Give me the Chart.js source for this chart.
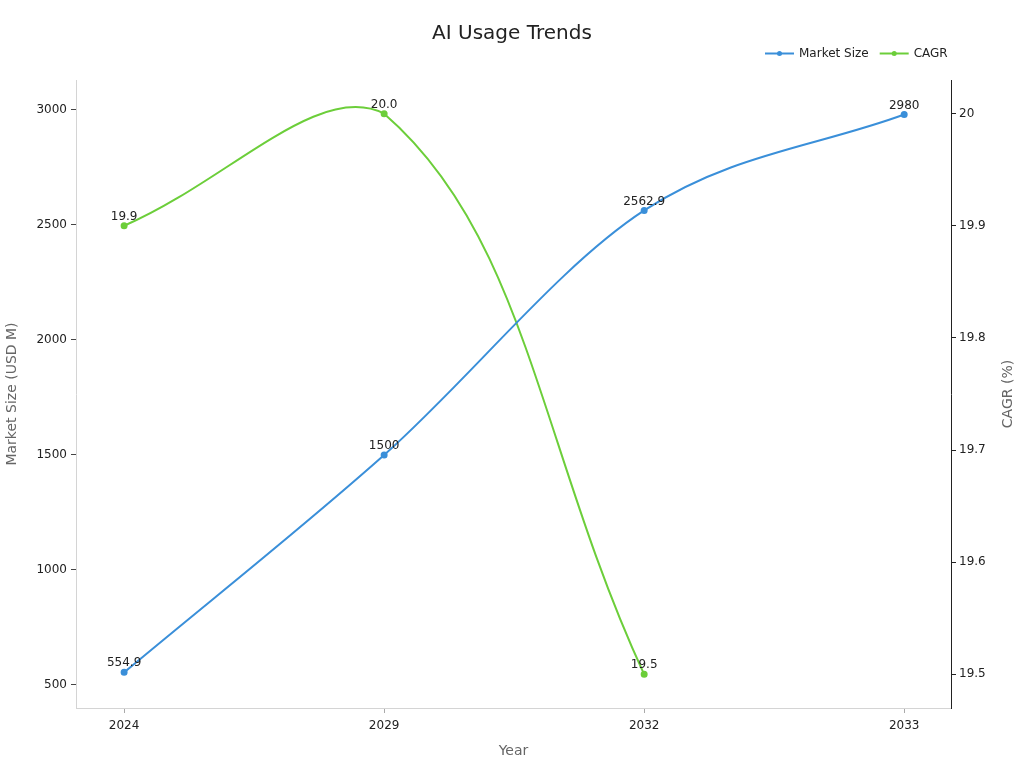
<!DOCTYPE html>
<html>
<head>
<meta charset="utf-8">
<script src="https://cdn.jsdelivr.net/npm/chart.js@4/dist/chart.umd.min.js"></script>
<style>
html,body{margin:0;padding:0;background:#fff;}
#wrap{width:1024px;height:768px;}
</style>
</head>
<body>
<div id="wrap"><canvas id="c" width="1024" height="768"></canvas></div>
<script>
const categories = ['2024', '2029', '2032', '2033'];
const marketSize = [554.9, 1500, 2562.9, 2980];
const cagr = [19.9, 20.0, 19.5];
const leftTicks = [500, 1000, 1500, 2000, 2500, 3000];
const rightTicks = [19.5, 19.6, 19.7, 19.8, 19.9, 20.0];

const FONT = "'DejaVu Sans', sans-serif";
const BLUE = '#3a8fd9';
const GREEN = '#6cce3a';

const marketPts = marketSize.map((v, i) => ({x: i, y: v}));
const cagrPts = cagr.map((v, i) => ({x: i, y: v}));

const labelPlugin = {
  id: 'pointLabels',
  afterDatasetsDraw(chart) {
    const ctx = chart.ctx;
    ctx.save();
    ctx.font = '12px ' + FONT;
    ctx.fillStyle = '#222';
    ctx.textAlign = 'center';
    ctx.textBaseline = 'bottom';
    chart.data.datasets.forEach((ds, di) => {
      const meta = chart.getDatasetMeta(di);
      meta.data.forEach((pt, i) => {
        const v = ds.data[i].y;
        const txt = di === 1 ? v.toFixed(1) : String(v);
        ctx.fillText(txt, pt.x, pt.y - 3);
      });
    });
    ctx.restore();
  }
};

const legendPlugin = {
  id: 'customLegend',
  afterDraw(chart) {
    const ctx = chart.ctx;
    ctx.save();
    ctx.font = '12px ' + FONT;
    ctx.textBaseline = 'middle';
    const y = 53.5;
    let x = 765;
    chart.data.datasets.forEach((ds) => {
      ctx.strokeStyle = ds.borderColor;
      ctx.lineWidth = 2;
      ctx.beginPath();
      ctx.moveTo(x, y);
      ctx.lineTo(x + 29, y);
      ctx.stroke();
      ctx.fillStyle = ds.borderColor;
      ctx.beginPath();
      ctx.arc(x + 14.5, y, 2.5, 0, Math.PI * 2);
      ctx.fill();
      ctx.fillStyle = '#222';
      ctx.textAlign = 'left';
      ctx.fillText(ds.label, x + 34, y);
      x += 34 + ctx.measureText(ds.label).width + 11;
    });
    // right axis title, reading bottom-to-top
    const a = chart.chartArea;
    ctx.font = '14px ' + FONT;
    ctx.fillStyle = '#666';
    ctx.textAlign = 'center';
    ctx.translate(1008, (a.top + a.bottom) / 2);
    ctx.rotate(-Math.PI / 2);
    ctx.fillText('CAGR (%)', 0, 0);
    ctx.restore();
  }
};

new Chart(document.getElementById('c'), {
  type: 'line',
  data: {
    datasets: [
      {label: 'Market Size', data: marketPts, borderColor: BLUE, backgroundColor: BLUE,
       borderWidth: 2, pointRadius: 2.5, pointHoverRadius: 2.5, cubicInterpolationMode: 'monotone', yAxisID: 'y', fill: false},
      {label: 'CAGR', data: cagrPts, borderColor: GREEN, backgroundColor: GREEN,
       borderWidth: 2, pointRadius: 2.5, pointHoverRadius: 2.5, tension: 0.4, yAxisID: 'y1', fill: false}
    ]
  },
  options: {
    responsive: false,
    animation: false,
    devicePixelRatio: 1,
    layout: {padding: {top: 0, right: 0, bottom: 0, left: 0}},
    plugins: {
      legend: {display: false},
      tooltip: {enabled: false},
      title: {display: true, text: 'AI Usage Trends', color: '#222',
        font: {family: FONT, size: 20, weight: 'normal'}, padding: {top: 22, bottom: 34}}
    },
    scales: {
      x: {
        type: 'linear', min: -0.185, max: 3.18,
        afterBuildTicks(s) { s.ticks = categories.map((c, i) => ({value: i})); },
        afterFit(s) { s.height = 60; },
        ticks: {callback: (v) => categories[v] ?? '', color: '#222', font: {family: FONT, size: 12}, padding: 6},
        grid: {drawOnChartArea: false, drawTicks: true, tickLength: 5, color: '#aaa'},
        border: {display: true, color: '#d4d4d4', width: 1},
        title: {display: true, text: 'Year', color: '#666', font: {family: FONT, size: 14}, padding: {top: 2, bottom: 8}}
      },
      y: {
        type: 'linear', position: 'left', min: 400, max: 3130,
        afterBuildTicks(s) { s.ticks = leftTicks.map(v => ({value: v})); },
        afterFit(s) { s.width = 76; },
        ticks: {color: '#222', font: {family: FONT, size: 12}, padding: 4, callback: (v) => String(v)},
        grid: {drawOnChartArea: false, drawTicks: true, tickLength: 5, color: '#444'},
        border: {display: true, color: '#d4d4d4', width: 1},
        title: {display: true, text: 'Market Size (USD M)', color: '#666', font: {family: FONT, size: 14}, padding: {bottom: 2}}
      },
      y1: {
        type: 'linear', position: 'right', min: 19.47, max: 20.03,
        afterBuildTicks(s) { s.ticks = rightTicks.map(v => ({value: v})); },
        afterFit(s) { s.width = 73; },
        ticks: {color: '#222', font: {family: FONT, size: 12}, padding: 3,
          callback: (v) => String(Math.round(v * 10) / 10)},
        grid: {drawOnChartArea: false, drawTicks: true, tickLength: 5, color: '#222'},
        border: {display: true, color: '#222', width: 1},
        title: {display: false}
      }
    }
  },
  plugins: [labelPlugin, legendPlugin]
});
</script>
</body>
</html>
